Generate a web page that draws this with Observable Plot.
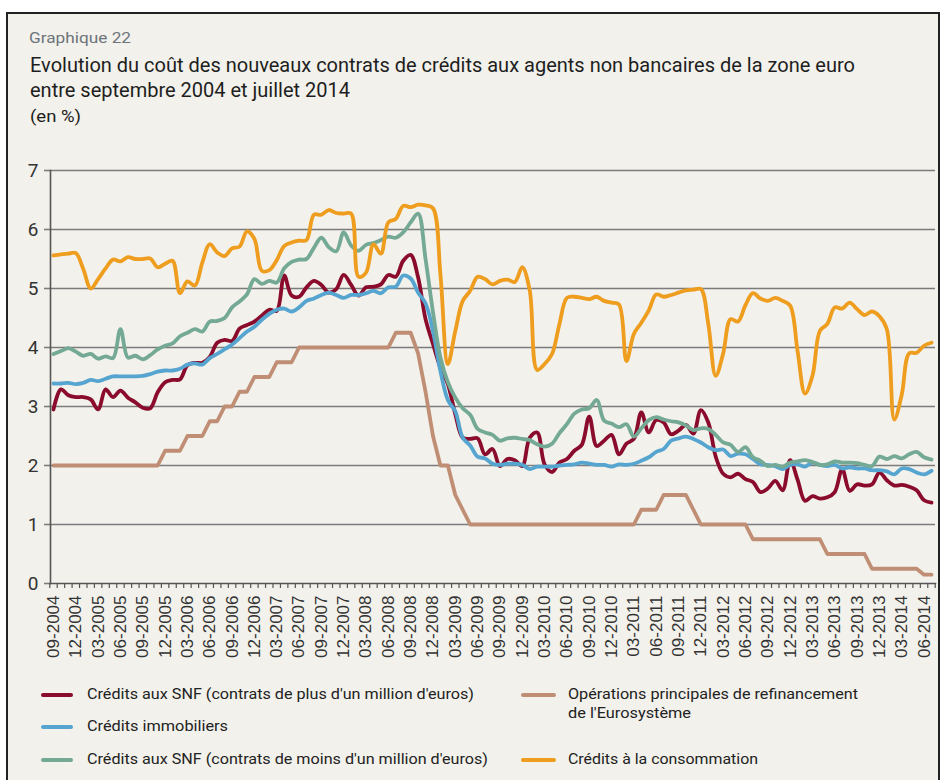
<!DOCTYPE html>
<html lang="fr">
<head>
<meta charset="utf-8">
<script src="https://cdn.jsdelivr.net/npm/d3@7"></script>
<script src="https://cdn.jsdelivr.net/npm/@observablehq/plot@0.6"></script>
<style>
  html, body { margin: 0; padding: 0; overflow: hidden; background: #ffffff; width: 942px; height: 780px; }
  #frame { position: absolute; left: 6px; top: 12px; width: 934px; height: 800px; box-sizing: border-box;
           border: 2px solid #222; background: #f2f1eb; }
  .t { position: absolute; white-space: nowrap; line-height: 1; font-family: Roboto, "Liberation Sans", sans-serif;
       transform-origin: 0 50%; display: inline-block; }
  .sw { position: absolute; height: 4px; border-radius: 2px; }
  #chart { position: absolute; left: 0; top: 160px; }
</style>
</head>
<body>
<div id="frame"></div>
<div id="texts"></div>
<div id="chart"></div>
<script>
// ---------- data ----------
const months = [
  "09-2004","10-2004","11-2004","12-2004",
  "01-2005","02-2005","03-2005","04-2005","05-2005","06-2005","07-2005","08-2005","09-2005","10-2005","11-2005","12-2005",
  "01-2006","02-2006","03-2006","04-2006","05-2006","06-2006","07-2006","08-2006","09-2006","10-2006","11-2006","12-2006",
  "01-2007","02-2007","03-2007","04-2007","05-2007","06-2007","07-2007","08-2007","09-2007","10-2007","11-2007","12-2007",
  "01-2008","02-2008","03-2008","04-2008","05-2008","06-2008","07-2008","08-2008","09-2008","10-2008","11-2008","12-2008",
  "01-2009","02-2009","03-2009","04-2009","05-2009","06-2009","07-2009","08-2009","09-2009","10-2009","11-2009","12-2009",
  "01-2010","02-2010","03-2010","04-2010","05-2010","06-2010","07-2010","08-2010","09-2010","10-2010","11-2010","12-2010",
  "01-2011","02-2011","03-2011","04-2011","05-2011","06-2011","07-2011","08-2011","09-2011","10-2011","11-2011","12-2011",
  "01-2012","02-2012","03-2012","04-2012","05-2012","06-2012","07-2012","08-2012","09-2012","10-2012","11-2012","12-2012",
  "01-2013","02-2013","03-2013","04-2013","05-2013","06-2013","07-2013","08-2013","09-2013","10-2013","11-2013","12-2013",
  "01-2014","02-2014","03-2014","04-2014","05-2014","06-2014","07-2014"
];

const tickLabels = [
  "09-2004","12-2004","03-2005","06-2005","09-2005","12-2005","03-2006","06-2006","09-2006","12-2006",
  "03-2007","06-2007","09-2007","12-2007","03-2008","06-2008","09-2008","12-2008","03-2009","06-2009",
  "09-2009","12-2009","03-2010","06-2010","09-2010","12-2010","03-2011","06-2011","09-2011","12-2011",
  "03-2012","06-2012","09-2012","12-2012","03-2013","06-2013","09-2013","12-2013","03-2014","06-2014"
];

const yTicks = [0, 1, 2, 3, 4, 5, 6, 7];

// Crédits aux SNF (contrats de plus d'un million d'euros)
const snfPlus = [
  2.95,3.29,3.19,3.16,3.16,3.12,2.95,3.29,3.16,3.27,3.15,3.07,2.98,2.97,3.24,3.41,3.45,3.46,3.70,3.74,
  3.74,3.84,4.08,4.13,4.11,4.32,4.38,4.44,4.54,4.64,4.62,5.22,4.88,4.86,5.02,5.13,5.06,4.93,4.99,5.23,
  5.06,4.88,5.02,5.03,5.07,5.23,5.20,5.47,5.57,5.19,4.48,4.06,3.66,3.38,2.87,2.47,2.45,2.46,2.19,2.28,
  1.99,2.11,2.09,1.99,2.47,2.56,2.02,1.89,2.05,2.11,2.25,2.35,2.83,2.33,2.42,2.52,2.19,2.37,2.45,2.90,
  2.56,2.77,2.73,2.53,2.59,2.69,2.54,2.94,2.73,2.15,1.86,1.80,1.86,1.77,1.72,1.55,1.61,1.74,1.58,2.09,
  1.76,1.40,1.48,1.44,1.46,1.55,1.94,1.57,1.68,1.66,1.68,1.88,1.75,1.66,1.67,1.64,1.58,1.41,1.37
];

// Crédits immobiliers
const immo = [
  3.39,3.39,3.40,3.38,3.40,3.45,3.43,3.47,3.51,3.51,3.51,3.51,3.52,3.55,3.59,3.61,3.61,3.64,3.71,3.73,
  3.71,3.82,3.89,3.97,4.05,4.16,4.27,4.35,4.47,4.57,4.64,4.66,4.61,4.68,4.79,4.83,4.89,4.93,4.89,4.84,
  4.89,4.89,4.92,4.96,4.92,5.02,5.03,5.22,5.17,4.93,4.75,4.28,3.60,3.11,2.92,2.47,2.34,2.15,2.12,2.03,
  2.01,2.03,2.03,2.01,1.94,1.98,1.98,1.98,2.00,2.01,2.02,2.05,2.03,2.01,2.01,1.98,2.02,2.01,2.03,2.08,
  2.14,2.23,2.28,2.42,2.46,2.49,2.45,2.39,2.31,2.26,2.27,2.16,2.20,2.19,2.11,2.02,2.01,1.99,1.94,2.01,
  2.02,1.98,2.05,2.01,1.99,2.01,1.95,1.97,1.95,1.95,1.92,1.92,1.90,1.85,1.95,1.94,1.88,1.85,1.91
];

// Crédits aux SNF (contrats de moins d'un million d'euros)
const snfMoins = [
  3.89,3.94,3.99,3.93,3.86,3.89,3.81,3.85,3.82,4.31,3.83,3.86,3.80,3.87,3.97,4.03,4.07,4.19,4.25,4.31,
  4.27,4.44,4.45,4.50,4.68,4.78,4.90,5.16,5.08,5.13,5.10,5.34,5.45,5.49,5.50,5.69,5.86,5.70,5.63,5.95,
  5.73,5.64,5.74,5.77,5.82,5.88,5.86,5.95,6.12,6.27,5.50,4.60,3.83,3.41,3.15,2.97,2.86,2.62,2.56,2.52,
  2.42,2.46,2.47,2.45,2.43,2.36,2.32,2.37,2.55,2.70,2.88,2.95,2.97,3.11,2.76,2.71,2.65,2.70,2.49,2.63,
  2.77,2.82,2.78,2.75,2.73,2.68,2.60,2.63,2.62,2.52,2.39,2.35,2.23,2.31,2.14,2.08,1.99,2.01,1.98,2.05,
  2.07,2.09,2.06,2.01,2.02,2.07,2.05,2.05,2.04,2.01,1.99,2.15,2.11,2.16,2.12,2.19,2.23,2.14,2.10
];

// Opérations principales de refinancement de l'Eurosystème
const refi = [
  2.00,2.00,2.00,2.00,2.00,2.00,2.00,2.00,2.00,2.00,2.00,2.00,2.00,2.00,2.00,2.25,2.25,2.25,2.50,2.50,
  2.50,2.75,2.75,3.00,3.00,3.25,3.25,3.50,3.50,3.50,3.75,3.75,3.75,4.00,4.00,4.00,4.00,4.00,4.00,4.00,
  4.00,4.00,4.00,4.00,4.00,4.00,4.25,4.25,4.25,3.90,3.25,2.50,2.00,2.00,1.50,1.25,1.00,1.00,1.00,1.00,
  1.00,1.00,1.00,1.00,1.00,1.00,1.00,1.00,1.00,1.00,1.00,1.00,1.00,1.00,1.00,1.00,1.00,1.00,1.00,1.25,
  1.25,1.25,1.50,1.50,1.50,1.50,1.25,1.00,1.00,1.00,1.00,1.00,1.00,1.00,0.75,0.75,0.75,0.75,0.75,0.75,
  0.75,0.75,0.75,0.75,0.50,0.50,0.50,0.50,0.50,0.50,0.25,0.25,0.25,0.25,0.25,0.25,0.25,0.15,0.15
];

// Crédits à la consommation
const conso = [
  5.56,5.58,5.59,5.60,5.33,5.00,5.16,5.34,5.49,5.46,5.53,5.50,5.50,5.51,5.36,5.42,5.47,4.92,5.12,5.05,
  5.44,5.75,5.61,5.55,5.68,5.71,5.97,5.84,5.30,5.31,5.48,5.72,5.78,5.81,5.82,6.25,6.25,6.33,6.28,6.27,
  6.27,5.20,5.27,5.75,5.59,6.12,6.18,6.40,6.38,6.42,6.41,6.36,5.24,3.72,4.28,4.79,4.96,5.20,5.16,5.07,
  5.13,5.15,5.11,5.36,4.97,3.62,3.72,3.89,4.40,4.84,4.86,4.84,4.82,4.86,4.79,4.76,4.73,3.77,4.23,4.42,
  4.63,4.90,4.86,4.89,4.93,4.97,4.98,4.99,4.40,3.52,3.90,4.48,4.44,4.72,4.92,4.83,4.79,4.84,4.79,4.71,
  3.94,3.22,3.52,4.28,4.40,4.68,4.66,4.76,4.65,4.55,4.61,4.53,4.31,2.78,3.20,3.90,3.91,4.03,4.08
];

const seriesNames = [
  "Crédits aux SNF (contrats de plus d'un million d'euros)",
  "Crédits immobiliers",
  "Crédits aux SNF (contrats de moins d'un million d'euros)",
  "Opérations principales de refinancement de l'Eurosystème",
  "Crédits à la consommation"
];
const seriesColors = ["#8a0b2c", "#55a5d0", "#74a995", "#bf8e74", "#ee9d1e"];
const seriesValues = [snfPlus, immo, snfMoins, refi, conso];
const seriesCurves = ["catmull-rom", "catmull-rom", "catmull-rom", "linear", "catmull-rom"];

// ---------- texts ----------
const textsEl = document.getElementById("texts");
function addText(str, opts) {
  const d = document.createElement("div");
  d.className = "t";
  d.textContent = str;
  d.style.left = opts.x + "px";
  d.style.top = opts.top + "px";
  d.style.fontSize = opts.size + "px";
  d.style.color = opts.color || "#222";
  if (opts.family) d.style.fontFamily = opts.family;
  textsEl.appendChild(d);
  if (opts.w) {
    const w = d.getBoundingClientRect().width;
    d.style.transform = "scaleX(" + (opts.w / w) + ")";
  }
  return d;
}
function topFromBaseline(b, s) { return b - 0.84 * s; }
function topFromCenter(c, s) { return c - 0.5 * s; }

addText("Graphique 22", {x: 29, top: topFromBaseline(44, 15.5), size: 15.5, color: "#6d747b", w: 102});
addText("Evolution du coût des nouveaux contrats de crédits aux agents non bancaires de la zone euro",
        {x: 30, top: topFromBaseline(72, 20), size: 20, color: "#1e1e1e", w: 825});
addText("entre septembre 2004 et juillet 2014", {x: 30, top: topFromBaseline(97, 20), size: 20, color: "#1e1e1e", w: 320});
addText("(en %)", {x: 30, top: topFromBaseline(122, 17), size: 17, color: "#1e1e1e", w: 51});

// legend
const legSize = 15.5;
const legend = [
  {x: 41, sw: 32, tx: 87, c: 695, lines: [seriesNames[0]], w: [387], k: 0},
  {x: 41, sw: 32, tx: 87, c: 727, lines: [seriesNames[1]], w: [141], k: 1},
  {x: 41, sw: 32, tx: 87, c: 760, lines: [seriesNames[2]], w: [401], k: 2},
  {x: 521, sw: 35, tx: 568, c: 695, lines: ["Opérations principales de refinancement", "de l'Eurosystème"], w: [290, 123], k: 3},
  {x: 521, sw: 35, tx: 568, c: 760, lines: [seriesNames[4]], w: [190], k: 4}
];
legend.forEach(L => {
  const s = document.createElement("div");
  s.className = "sw";
  s.style.left = L.x + "px";
  s.style.width = L.sw + "px";
  s.style.top = (L.c - 2) + "px";
  s.style.background = seriesColors[L.k];
  textsEl.appendChild(s);
  L.lines.forEach((ln, j) => {
    addText(ln, {x: L.tx, top: topFromCenter(L.c + j * 19, legSize), size: legSize, color: "#222", w: L.w[j]});
  });
});

// ---------- chart ----------
const rows = [];
seriesValues.forEach((vals, k) => vals.forEach((v, i) => rows.push({i, v, k})));

const labelIdx = tickLabels.map(l => months.indexOf(l));
const monthBounds = d3.range(-0.5, months.length, 1);

const lineMarks = [3, 0, 1, 2, 4].map(k =>
  Plot.line(rows.filter(r => r.k === k), {
    x: "i", y: "v", stroke: seriesColors[k], strokeWidth: 3.8, curve: seriesCurves[k],
    strokeLinejoin: "round", strokeLinecap: "round"
  })
);

const chart = Plot.plot({
  width: 942,
  height: 513,
  marginLeft: 50,
  marginRight: 7,
  marginTop: 10,
  marginBottom: 90,
  x: {domain: [0, months.length - 1], insetLeft: 3, insetRight: 4, axis: null, label: null},
  y: {domain: [0, 7], axis: null, label: null},
  style: {background: "transparent", fontFamily: "Roboto, 'Liberation Sans', sans-serif", overflow: "visible", color: "#333"},
  marks: [
    Plot.gridY(yTicks.filter(d => d > 0), {stroke: "#7c7c7c", strokeOpacity: 1, strokeWidth: 1.6}),
    Plot.axisY(yTicks, {label: null, tickSize: 6, tickPadding: 6, stroke: "#7c7c7c", strokeWidth: 1.6, fontSize: 19,
                        fill: "#333", tickFormat: d => String(d)}),
    Plot.axisX(monthBounds, {label: null, tickSize: 5, stroke: "#555", strokeWidth: 1.2, tickFormat: () => ""}),
    Plot.axisX(labelIdx, {label: null, tickSize: 0, tickPadding: 12, tickRotate: -90, fontSize: 17,
                          fontFamily: "'Liberation Sans', Arial, sans-serif", fill: "#333",
                          tickFormat: i => months[i]}),
    ...lineMarks,
    Plot.frame({anchor: "left", stroke: "#555", strokeWidth: 1.6}),
    Plot.frame({anchor: "bottom", stroke: "#555", strokeWidth: 1.6})
  ]
});
document.getElementById("chart").appendChild(chart);
</script>
</body>
</html>
